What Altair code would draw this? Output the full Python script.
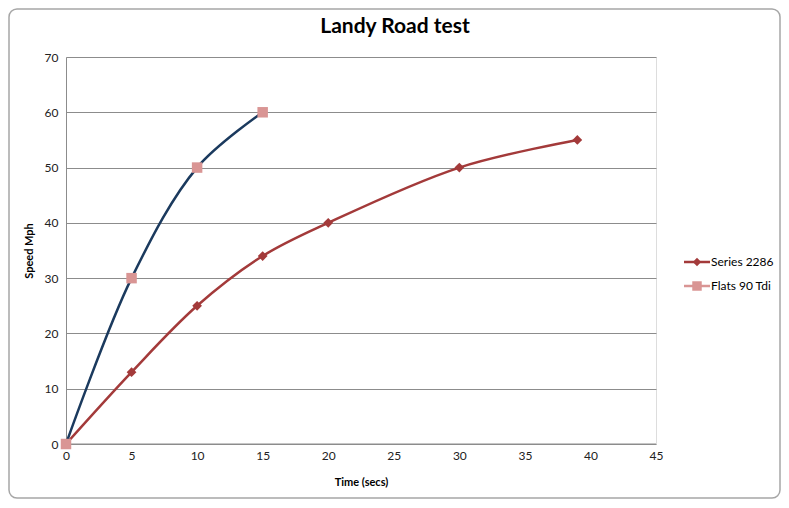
import altair as alt
import pandas as pd

# Data
title_text = "Landy Road test"

s1_name = "Series 2286"
s1_time = [0, 5, 10, 15, 20, 30, 39]
s1_speed = [0, 13, 25, 34, 40, 50, 55]

s2_name = "Flats 90 Tdi"
s2_time = [0, 5, 10, 15]
s2_speed = [0, 30, 50, 60]

x_ticks = [0, 5, 10, 15, 20, 25, 30, 35, 40, 45]
y_ticks = [0, 10, 20, 30, 40, 50, 60, 70]

df1 = pd.DataFrame({"t": s1_time, "v": s1_speed, "s": s1_name})
df2 = pd.DataFrame({"t": s2_time, "v": s2_speed, "s": s2_name})

FONT = "Lato"
RED = "#A33A3A"
NAVY = "#1B3A5E"
PINK = "#D99594"
GRID = "#8C8C8C"

xs = alt.Scale(domain=[0, 45], nice=False)
ys = alt.Scale(domain=[0, 70], nice=False)

xenc = alt.X("t:Q", scale=xs, title="Time (secs)",
             axis=alt.Axis(values=x_ticks, grid=False, ticks=False, domain=False,
                           labelFlush=False, labelOverlap=False,
                           labelFont=FONT, labelFontSize=12, labelColor="#222",
                           labelPadding=6, titleFont=FONT, titleFontSize=11,
                           titleFontWeight="bold", titleColor="#000", titlePadding=15))
yenc = alt.Y("v:Q", scale=ys, title="Speed Mph",
             axis=alt.Axis(values=y_ticks, grid=True, gridColor=GRID, gridWidth=1,
                           ticks=False, domain=True, domainColor=GRID,
                           labelFlush=False, labelOverlap=False,
                           labelFont=FONT, labelFontSize=12, labelColor="#222",
                           labelPadding=8, titleFont=FONT, titleFontSize=11,
                           titleFontWeight="bold", titleColor="#000", titlePadding=10))

base1 = alt.Chart(df1)
base2 = alt.Chart(df2)

line1 = base1.mark_line(color=RED, strokeWidth=2.5, interpolate="catmull-rom").encode(x=xenc, y=yenc)
pts1 = base1.mark_point(shape="diamond", filled=True, color=RED, size=95, opacity=1).encode(x="t:Q", y="v:Q")
line2 = base2.mark_line(color=NAVY, strokeWidth=2.5, interpolate="catmull-rom").encode(x="t:Q", y="v:Q")
pts2 = base2.mark_point(shape="square", filled=True, color=PINK, size=110, opacity=1).encode(x="t:Q", y="v:Q")

# bottom axis line
bottom = alt.Chart(pd.DataFrame({"v": [0]})).mark_rule(color=GRID, strokeWidth=1).encode(
    y="v:Q", x=alt.value(0), x2=alt.value(590))

# outer chart frame
frame = alt.Chart(pd.DataFrame({"a": [0]})).mark_rect(
    fill=None, stroke="#A6A6A6", strokeWidth=1.5, cornerRadius=8).encode(
    x=alt.value(-57), x2=alt.value(714), y=alt.value(-48), y2=alt.value(441))

# title as text
title = alt.Chart(pd.DataFrame({"a": [title_text]})).mark_text(
    align="center", baseline="middle", font=FONT, fontSize=21, fontWeight="bold", color="#000").encode(
    x=alt.value(329), y=alt.value(-30), text="a:N")

# manual legend
legY1 = 205
legY2 = 229
lg_r1 = alt.Chart(pd.DataFrame({"a": [0]})).mark_rule(color=RED, strokeWidth=2.5).encode(
    x=alt.value(618), x2=alt.value(644), y=alt.value(legY1))
lg_p1 = alt.Chart(pd.DataFrame({"a": [0]})).mark_point(shape="diamond", filled=True, color=RED, size=70, opacity=1).encode(
    x=alt.value(631), y=alt.value(legY1))
lg_t1 = alt.Chart(pd.DataFrame({"a": [s1_name]})).mark_text(align="left", baseline="middle", font=FONT, fontSize=12, color="#000").encode(
    x=alt.value(645), y=alt.value(legY1), text="a:N")
lg_r2 = alt.Chart(pd.DataFrame({"a": [0]})).mark_rule(color=PINK, strokeWidth=2.5).encode(
    x=alt.value(618), x2=alt.value(644), y=alt.value(legY2))
lg_p2 = alt.Chart(pd.DataFrame({"a": [0]})).mark_point(shape="square", filled=True, color=PINK, size=90, opacity=1).encode(
    x=alt.value(631), y=alt.value(legY2))
lg_t2 = alt.Chart(pd.DataFrame({"a": [s2_name]})).mark_text(align="left", baseline="middle", font=FONT, fontSize=12, color="#000").encode(
    x=alt.value(645), y=alt.value(legY2), text="a:N")

chart = alt.layer(frame, bottom, line1, line2, pts1, pts2, title,
                  lg_r1, lg_p1, lg_t1, lg_r2, lg_p2, lg_t2).properties(
    width=590, height=387,
    autosize=alt.AutoSizeParams(type="none"),
    padding={"left": 58, "top": 49, "right": 125, "bottom": 56},
).configure_view(stroke=None).configure(background="white")

chart.save("out.html", embed_options={"renderer": "svg", "actions": False})
